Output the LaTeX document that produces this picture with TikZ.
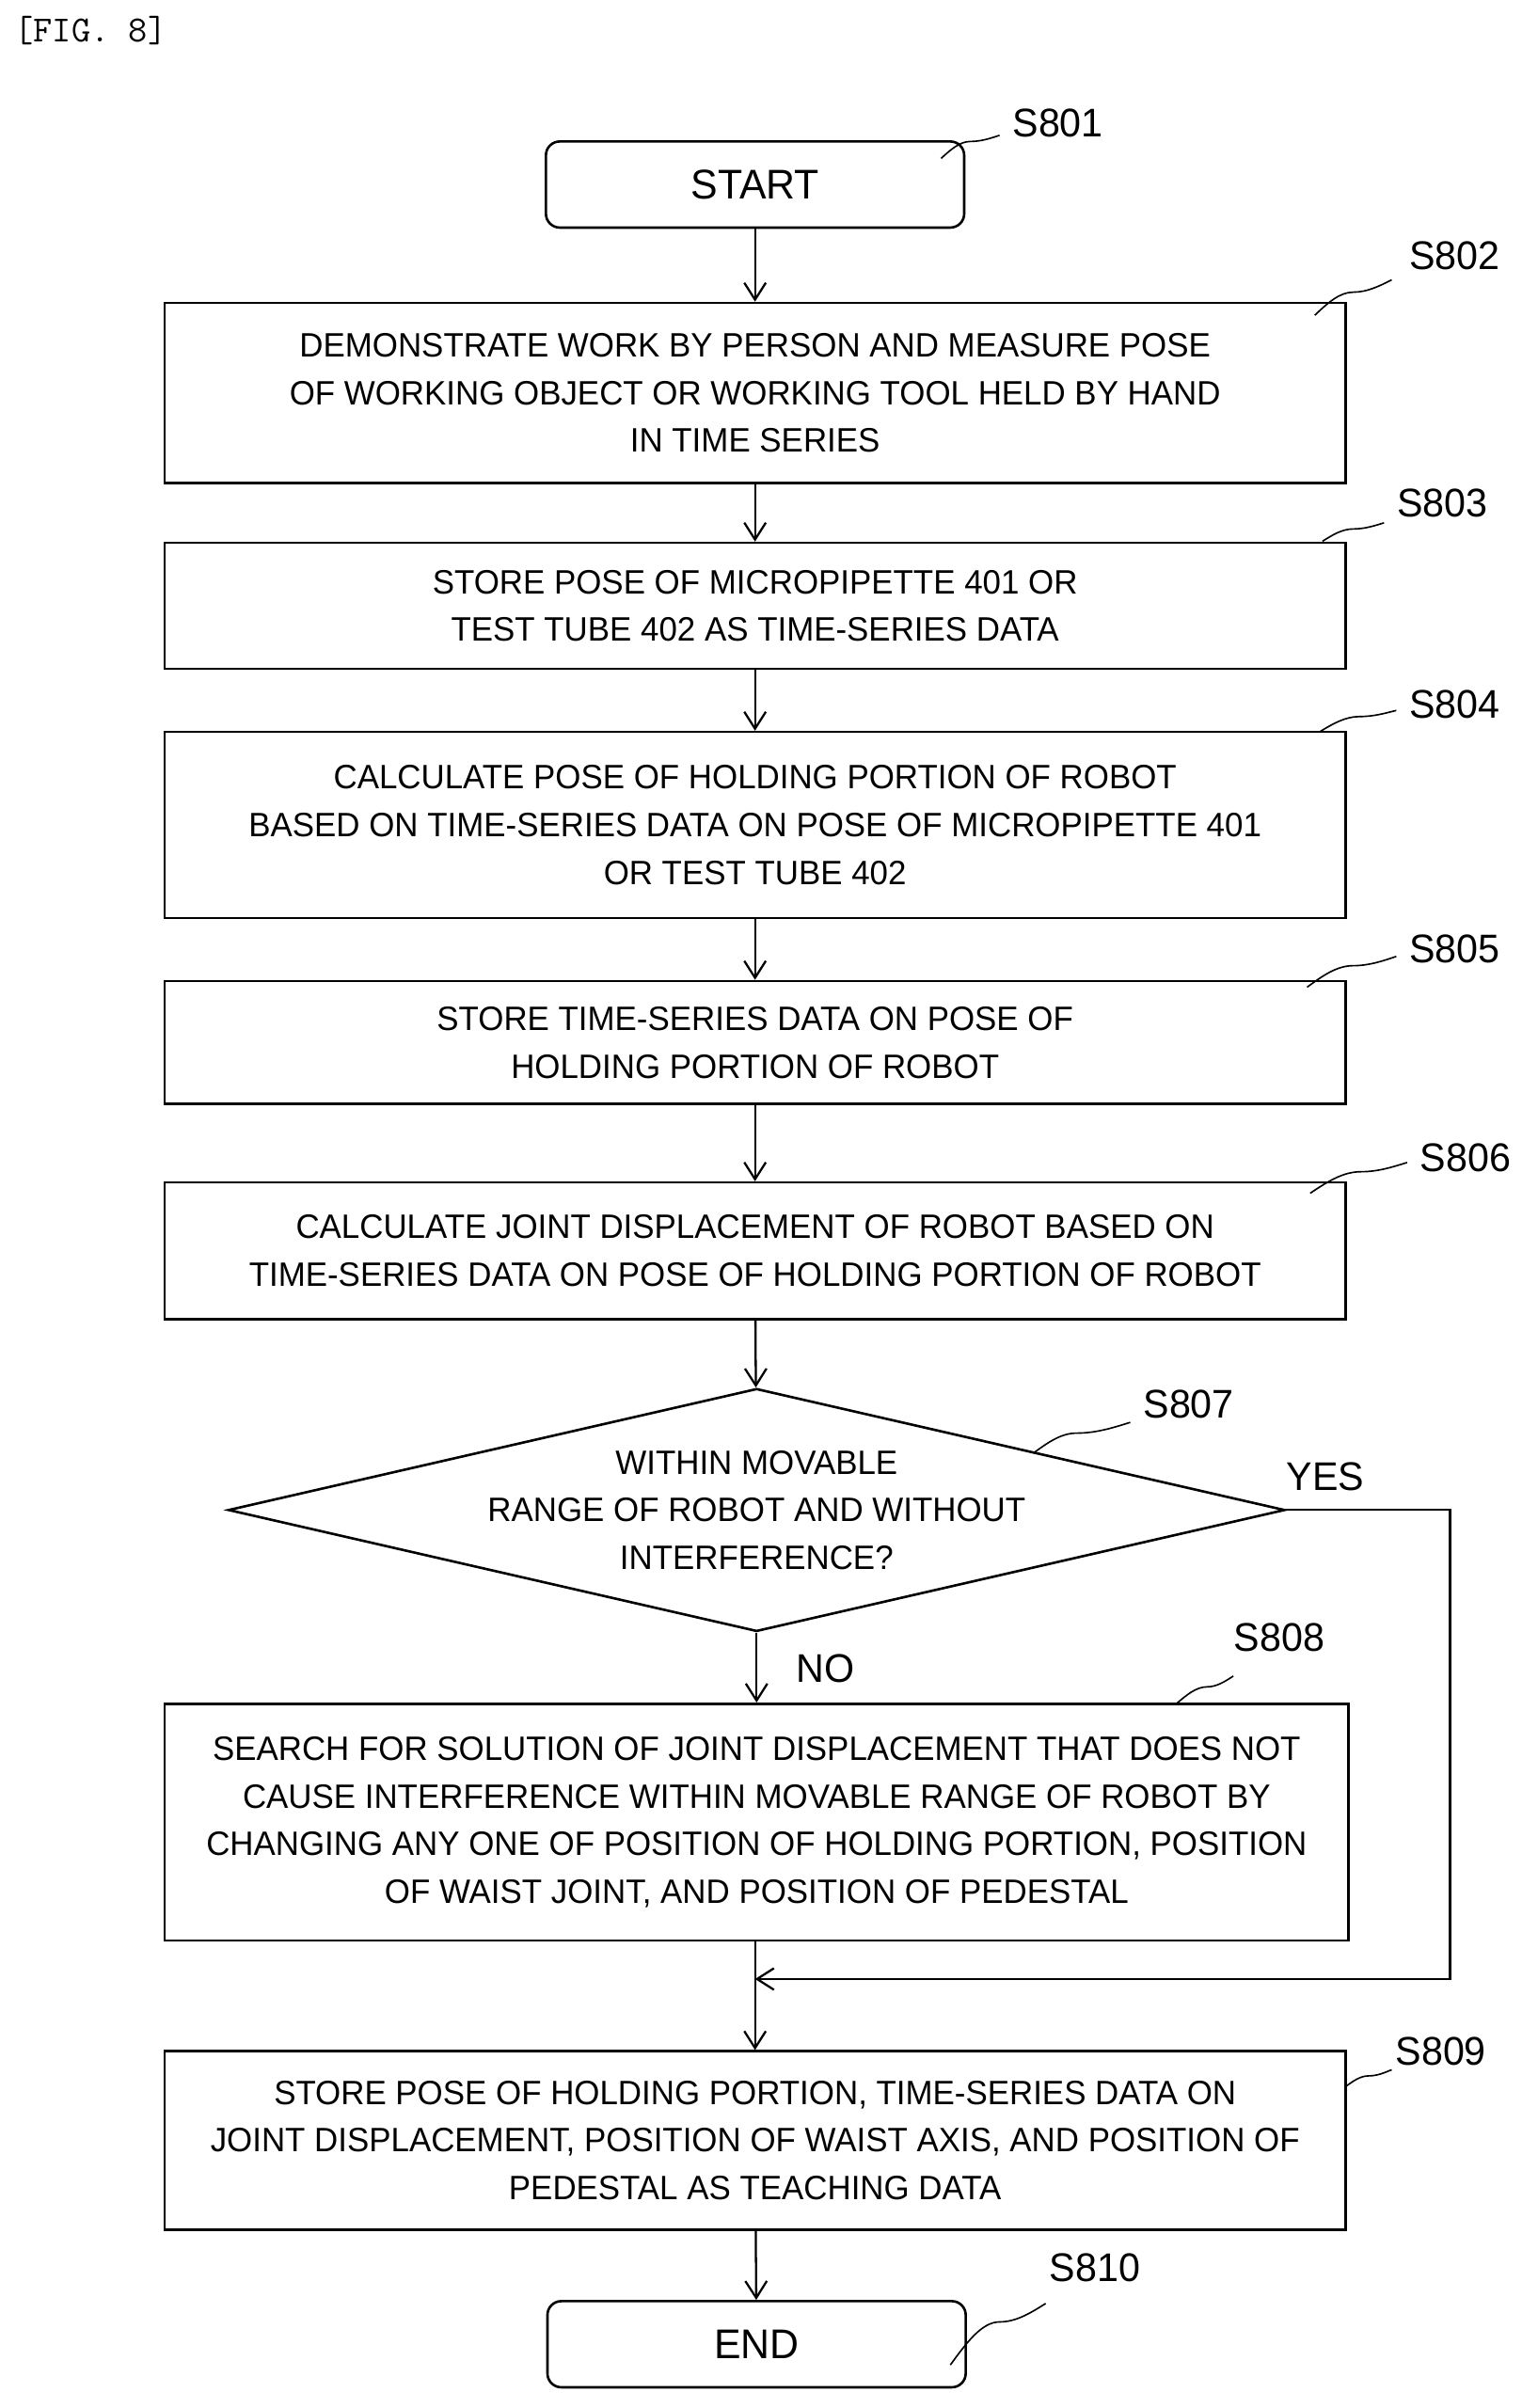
\documentclass[tikz,border=0pt]{standalone}
\usepackage{fontspec}
\setmainfont{Liberation Sans}[FakeStretch=0.97]
\usetikzlibrary{arrows.meta,shapes.geometric}
\tikzset{
  procbox/.style={draw,line width=1.6pt,minimum width=768pt,align=center,font=\fontsize{22}{31}\selectfont,inner sep=0pt},
  term/.style={draw,line width=1.6pt,rounded corners=9pt,minimum width=272pt,minimum height=56pt,font=\fontsize{27}{30}\selectfont},
  flow/.style={line width=1.4pt,-{Straight Barb[length=11pt,width=14pt,line width=1.4pt]}},
  tag/.style={font=\fontsize{26}{28}\selectfont},
  wave/.style={line width=1pt}
}
\begin{document}
\begin{tikzpicture}[x=1pt,y=-1pt]
\useasboundingbox (0,0) rectangle (1000,1566);
\node[anchor=west,font=\ttfamily\fontsize{24}{26}\selectfont] (fig) at (6,20) {[FIG. 8]};

% start
\node[term] (s801) at (491,120) {START};
\node[tag] (t801) at (688,80) {S801};
\draw[wave] (612,103) sin (631,92) cos (650,88);

% S802
\node[procbox,minimum height=117pt] (s802) at (491,255.5) {DEMONSTRATE WORK BY PERSON AND MEASURE POSE\\OF WORKING OBJECT OR WORKING TOOL HELD BY HAND\\IN TIME SERIES};
\node[tag] (t802) at (946,166) {S802};
\draw[wave] (855,205) sin (880,190) cos (905,182);

% S803
\node[procbox,minimum height=82pt] (s803) at (491,394) {STORE POSE OF MICROPIPETTE 401 OR\\TEST TUBE 402 AS TIME-SERIES DATA};
\node[tag] (t803) at (938,327) {S803};
\draw[wave] (860,352) sin (880,344) cos (900,340);

% S804
\node[procbox,minimum height=121pt] (s804) at (491,536.5) {CALCULATE POSE OF HOLDING PORTION OF ROBOT\\BASED ON TIME-SERIES DATA ON POSE OF MICROPIPETTE 401\\OR TEST TUBE 402};
\node[tag] (t804) at (946,458) {S804};
\draw[wave] (858,476) sin (884,466) cos (908,462);

% S805
\node[procbox,minimum height=80pt] (s805) at (491,678) {STORE TIME-SERIES DATA ON POSE OF\\HOLDING PORTION OF ROBOT};
\node[tag] (t805) at (946,617) {S805};
\draw[wave] (850,642) sin (880,628) cos (908,622);

% S806
\node[procbox,minimum height=89pt] (s806) at (491,813.5) {CALCULATE JOINT DISPLACEMENT OF ROBOT BASED ON\\TIME-SERIES DATA ON POSE OF HOLDING PORTION OF ROBOT};
\node[tag] (t806) at (953,753) {S806};
\draw[wave] (852,776) sin (885,762) cos (915,756);

% S807
\node[draw,line width=1.6pt,diamond,aspect=4.35,minimum width=675pt,minimum height=155pt,inner sep=0pt,align=center,font=\fontsize{22}{31}\selectfont] (s807) at (492,982) {WITHIN MOVABLE\\RANGE OF ROBOT AND WITHOUT\\INTERFERENCE?};
\node[tag] (t807) at (773,913) {S807};
\draw[wave] (672,945) sin (700,932) cos (735,925);
\node[tag] (yes) at (862,960) {YES};
\node[tag] (no) at (537,1085) {NO};

% S808
\node[procbox,minimum height=154pt,minimum width=770pt] (s808) at (492,1185) {SEARCH FOR SOLUTION OF JOINT DISPLACEMENT THAT DOES NOT\\CAUSE INTERFERENCE WITHIN MOVABLE RANGE OF ROBOT BY\\CHANGING ANY ONE OF POSITION OF HOLDING PORTION, POSITION\\OF WAIST JOINT, AND POSITION OF PEDESTAL};
\node[tag] (t808) at (832,1065) {S808};
\draw[wave] (765,1108) sin (785,1097) cos (802,1090);

% S809
\node[procbox,minimum height=116pt] (s809) at (491,1392) {STORE POSE OF HOLDING PORTION, TIME-SERIES DATA ON\\JOINT DISPLACEMENT, POSITION OF WAIST AXIS, AND POSITION OF\\PEDESTAL AS TEACHING DATA};
\node[tag] (t809) at (937,1334) {S809};
\draw[wave] (875,1357) sin (890,1350) cos (905,1346);

% end
\node[term] (s810) at (492,1524.5) {END};
\node[tag] (t810) at (712,1475) {S810};
\draw[wave] (618,1538) sin (650,1510) cos (680,1498);

% connectors
\coordinate (join) at (491,1287);
\draw[flow] (s801) -- (s802);
\draw[flow] (s802) -- (s803);
\draw[flow] (s803) -- (s804);
\draw[flow] (s804) -- (s805);
\draw[flow] (s805) -- (s806);
\draw[flow] (s806) -- (s807);
\draw[flow] (s807.south) -- (s808.north -| s807.south);
\draw[flow] (s808.south -| join) -- (s809.north -| join);
\draw[flow] (s807.east) -- (943,982) -- (943,1287) -- (join);
\draw[flow] (s809) -- (s810);
\end{tikzpicture}
\end{document}
